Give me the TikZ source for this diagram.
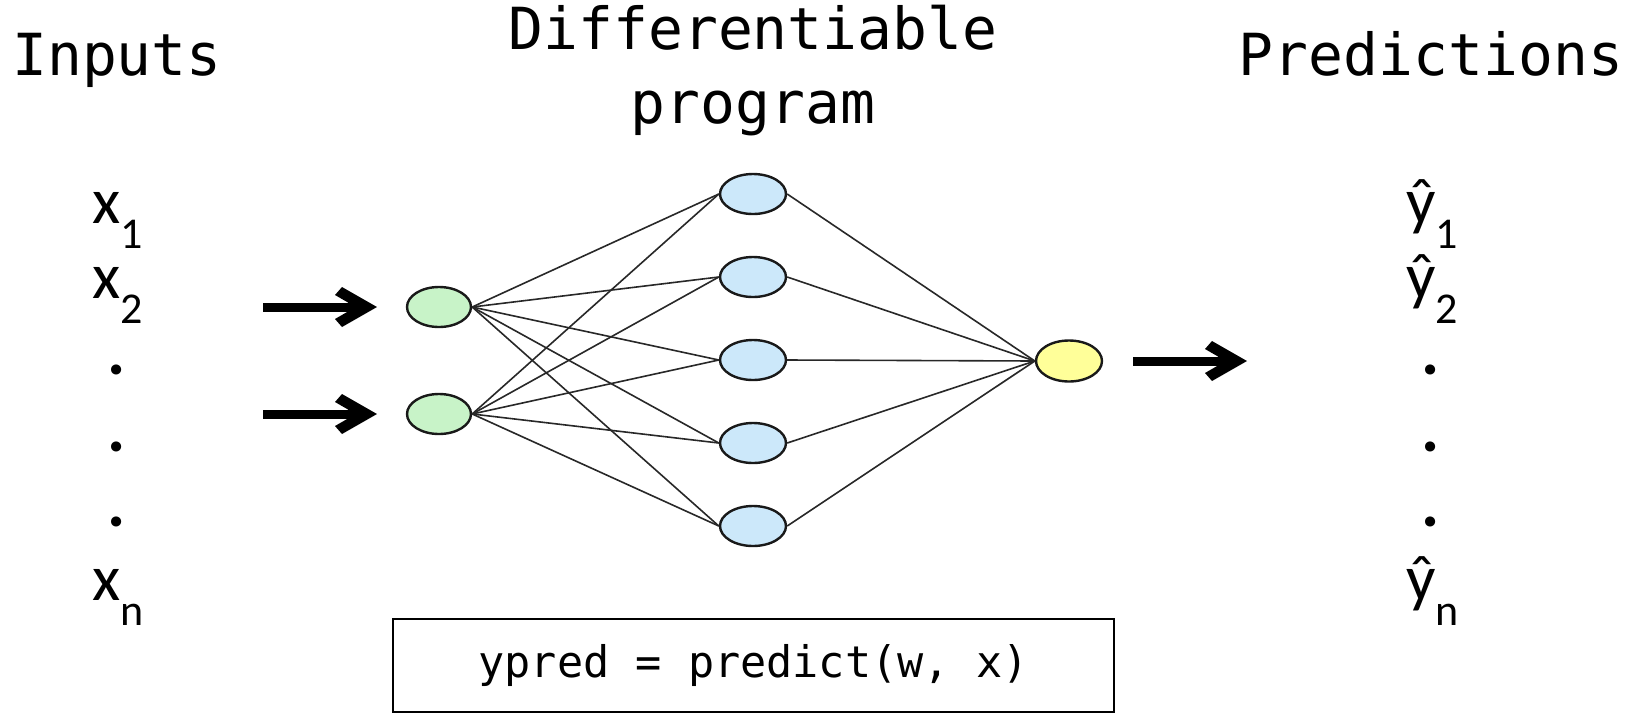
\documentclass[tikz,border=0pt]{standalone}
\usepackage{fontspec}
\setmainfont{Carlito}
\newfontfamily\monofam{DejaVu Sans Mono}
\usetikzlibrary{shapes.geometric}
\definecolor{gfill}{RGB}{200,243,200}
\definecolor{bfill}{RGB}{204,232,250}
\definecolor{yfill}{RGB}{255,255,153}
\definecolor{edgecol}{RGB}{40,40,40}
\newcommand{\subtxt}[1]{\raisebox{-25pt}{\fontsize{44}{44}\selectfont #1}}
\begin{document}
\begin{tikzpicture}[x=1pt,y=-1pt,
  neuron/.style={ellipse, draw=black!90, line width=2.4pt, minimum width=64pt, minimum height=40pt, inner sep=0pt},
  gneuron/.style={neuron, fill=gfill},
  bneuron/.style={neuron, fill=bfill, minimum width=66pt, minimum height=40pt},
  yneuron/.style={neuron, fill=yfill, minimum width=66pt, minimum height=41pt},
  conn/.style={draw=edgecol, line width=1.6pt},
  shaft/.style={line width=9pt},
  barbhead/.style={fill=black},
  title/.style={font=\monofam\fontsize{58}{70}\selectfont, inner sep=0pt, anchor=base},
  lab/.style={font=\fontsize{65}{70}\selectfont, inner sep=0pt, anchor=base west},
  dot/.style={font=\bfseries\fontsize{68}{68}\selectfont, inner sep=0pt, anchor=center},
]
\useasboundingbox (0,0) rectangle (1639,713);
\fill[white] (0,0) rectangle (1639,713);

% titles
\node[title] (tin) at (117,75) {Inputs};
\node[title] (tdiff) at (753,49) {Differentiable};
\node[title] (tprog) at (753,123) {program};
\node[title] (tpred) at (1431,75) {Predictions};

% input labels
\node[lab] (x1) at (92,223) {x\subtxt{1}};
\node[lab] (x2) at (92,298) {x\subtxt{2}};
\node[dot] (xd1) at (117,370) {.};
\node[dot] (xd2) at (117,447) {.};
\node[dot] (xd3) at (117,522) {.};
\node[lab] (xn) at (92,600) {x\subtxt{n}};

% output labels
\node[lab] (y1) at (1406,223) {ŷ\subtxt{1}};
\node[lab] (y2) at (1406,298) {ŷ\subtxt{2}};
\node[dot] (yd1) at (1431,370) {.};
\node[dot] (yd2) at (1431,447) {.};
\node[dot] (yd3) at (1431,522) {.};
\node[lab] (yn) at (1406,600) {ŷ\subtxt{n}};

% network nodes
\node[gneuron] (g1) at (439,307) {};
\node[gneuron] (g2) at (439,414) {};
\node[bneuron] (b1) at (753,194) {};
\node[bneuron] (b2) at (753,277) {};
\node[bneuron] (b3) at (753,360) {};
\node[bneuron] (b4) at (753,443) {};
\node[bneuron] (b5) at (753,526) {};
\node[yneuron] (out) at (1069,361) {};

% connections
\foreach \g in {g1,g2}{
  \foreach \b in {b1,b2,b3,b4,b5}{
    \draw[conn] (\g.east) -- (\b.west);
  }
}
\foreach \b in {b1,b2,b3,b4,b5}{
  \draw[conn] (\b.east) -- (out.west);
}

% arrows
\coordinate (a1s) at (263,307);
\coordinate (a2s) at (263,414);
\coordinate (t1) at (377,307);
\coordinate (t2) at (377,414);
\coordinate (t3) at (1247,361);
\draw[shaft, shorten >=56pt] (a1s) -- (g1.west);
\draw[shaft, shorten >=56pt] (a2s) -- (g2.west);
\draw[shaft, shorten <=30pt, shorten >=27pt] (out.east) -- (t3);
\foreach \t in {t1,t2,t3}{
  \fill[barbhead] (\t) -- ([shift={(-35,-20)}]\t) -- ([shift={(-42,-12)}]\t) -- ([shift={(-29,-4.5)}]\t)
    -- ([shift={(-29,4.5)}]\t) -- ([shift={(-42,12)}]\t) -- ([shift={(-35,20)}]\t) -- cycle;
}

% program box
\node[draw=black, line width=1.5pt, minimum width=721pt, minimum height=93pt, inner sep=0pt,
  font=\monofam\fontsize{43.5}{50}\selectfont] (code) at (753.5,665.5) {ypred = predict(w, x)};
\end{tikzpicture}
\end{document}
